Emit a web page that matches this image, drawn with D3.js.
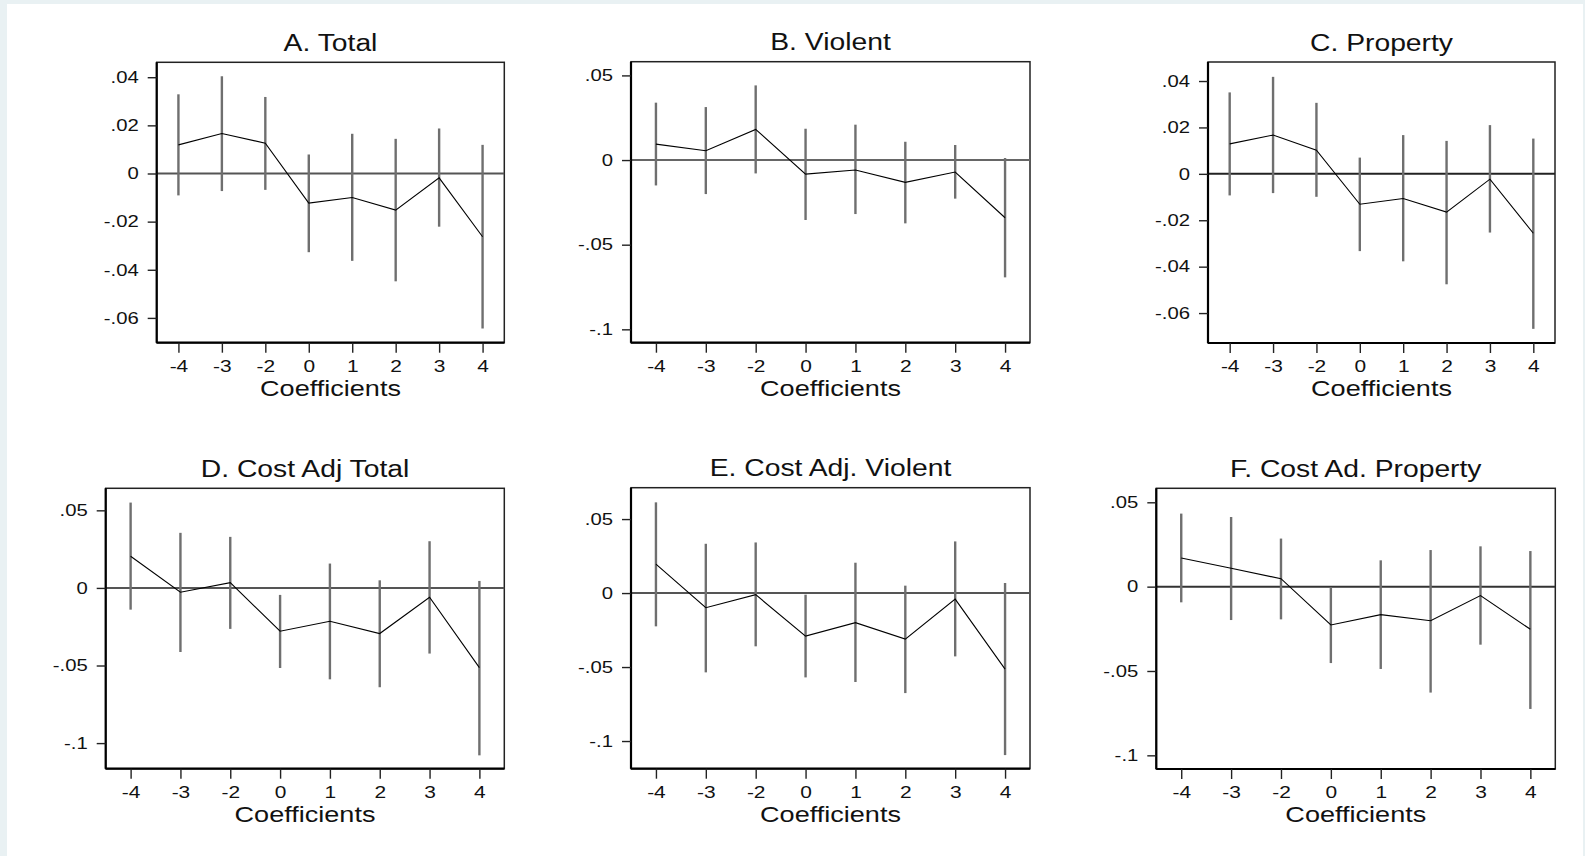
<!DOCTYPE html>
<html>
<head>
<meta charset="utf-8">
<script src="https://cdn.jsdelivr.net/npm/d3@7"></script>
<style>
  html, body { margin: 0; padding: 0; background: #e9f1f3; }
  svg { display: block; }
  text { font-family: "Liberation Sans", Arial, sans-serif; fill: #111; }
</style>
</head>
<body>
<svg id="chart" width="1585" height="856"></svg>
<script>
// ---------- DATA ----------
const categories = ["-4", "-3", "-2", "0", "1", "2", "3", "4"];
const titles = ["A. Total", "B. Violent", "C. Property", "D. Cost Adj Total", "E. Cost Adj. Violent", "F. Cost Ad. Property"];
const xLabel = "Coefficients";

const coefA = [0.0119, 0.0166, 0.0126, -0.0123, -0.0100, -0.0152, -0.0018, -0.0263];
const upperA = [0.0329, 0.0404, 0.0318, 0.0079, 0.0165, 0.0144, 0.0187, 0.0119];
const lowerA = [-0.0091, -0.0073, -0.0068, -0.0327, -0.0363, -0.0448, -0.0221, -0.0644];

const coefB = [0.0094, 0.0055, 0.0181, -0.0083, -0.0059, -0.0132, -0.0071, -0.0341];
const upperB = [0.0339, 0.0313, 0.0441, 0.0185, 0.0209, 0.0108, 0.0089, 0.0012];
const lowerB = [-0.0150, -0.0201, -0.0079, -0.0354, -0.0319, -0.0374, -0.0228, -0.0693];

const coefC = [0.0129, 0.0167, 0.0102, -0.0131, -0.0106, -0.0165, -0.0023, -0.0256];
const upperC = [0.0351, 0.0418, 0.0306, 0.0070, 0.0167, 0.0142, 0.0210, 0.0152];
const lowerC = [-0.0093, -0.0083, -0.0099, -0.0333, -0.0377, -0.0476, -0.0253, -0.0668];

const coefD = [0.0204, -0.0028, 0.0034, -0.0279, -0.0215, -0.0294, -0.0060, -0.0514];
const upperD = [0.0550, 0.0355, 0.0329, -0.0045, 0.0157, 0.0049, 0.0301, 0.0045];
const lowerD = [-0.0140, -0.0413, -0.0264, -0.0516, -0.0589, -0.0640, -0.0423, -0.1079];

const coefE = [0.0196, -0.0099, -0.0011, -0.0291, -0.0200, -0.0311, -0.0041, -0.0514];
const upperE = [0.0613, 0.0333, 0.0342, -0.0011, 0.0205, 0.0050, 0.0349, 0.0068];
const lowerE = [-0.0225, -0.0536, -0.0360, -0.0570, -0.0601, -0.0676, -0.0428, -0.1095];

const coefF = [0.0170, 0.0109, 0.0047, -0.0227, -0.0166, -0.0202, -0.0053, -0.0253];
const upperF = [0.0433, 0.0413, 0.0285, -0.0004, 0.0156, 0.0217, 0.0239, 0.0211];
const lowerF = [-0.0093, -0.0198, -0.0194, -0.0453, -0.0488, -0.0628, -0.0344, -0.0725];

const yTicksSmall = [0.04, 0.02, 0, -0.02, -0.04, -0.06];
const yTickLabelsSmall = [".04", ".02", "0", "-.02", "-.04", "-.06"];
const yTicksLarge = [0.05, 0, -0.05, -0.1];
const yTickLabelsLarge = [".05", "0", "-.05", "-.1"];

// ---------- LAYOUT ----------
const panels = [
  { title: titles[0], coef: coefA, lo: lowerA, hi: upperA, ticks: yTicksSmall, labels: yTickLabelsSmall,
    domain: [-0.0703, 0.0462], box: [156.7, 62.3, 504.3, 342.7], zeroColor: "#555" },
  { title: titles[1], coef: coefB, lo: lowerB, hi: upperB, ticks: yTicksLarge, labels: yTickLabelsLarge,
    domain: [-0.1079, 0.0581], box: [631, 61.7, 1030, 342.7], zeroColor: "#666" },
  { title: titles[2], coef: coefC, lo: lowerC, hi: upperC, ticks: yTicksSmall, labels: yTickLabelsSmall,
    domain: [-0.0729, 0.0482], box: [1208, 62, 1555, 343], zeroColor: "#222" },
  { title: titles[3], coef: coefD, lo: lowerD, hi: upperD, ticks: yTicksLarge, labels: yTickLabelsLarge,
    domain: [-0.1165, 0.0642], box: [105.7, 488.3, 504.3, 768.7], zeroColor: "#555" },
  { title: titles[4], coef: coefE, lo: lowerE, hi: upperE, ticks: yTicksLarge, labels: yTickLabelsLarge,
    domain: [-0.1187, 0.0712], box: [631, 487.7, 1030, 768.7], zeroColor: "#555" },
  { title: titles[5], coef: coefF, lo: lowerF, hi: upperF, ticks: yTicksLarge, labels: yTickLabelsLarge,
    domain: [-0.1081, 0.0583], box: [1156.3, 488.3, 1555.3, 769], zeroColor: "#333" }
];

const STRETCH = 1.23; // reference type is horizontally widened

function widen(sel) {
  sel.each(function () {
    const t = d3.select(this);
    const tx = +t.attr("x") || 0, ty = +t.attr("y") || 0;
    t.attr("x", 0).attr("y", 0).attr("transform", `translate(${tx},${ty}) scale(${STRETCH},1)`);
  });
}

const svg = d3.select("#chart");
svg.append("rect").attr("x", 7).attr("y", 4).attr("width", 1576).attr("height", 852).attr("fill", "#ffffff");

panels.forEach(p => {
  const [x0, y0, x1, y1] = p.box;
  const x = d3.scalePoint().domain(categories).range([x0, x1]).padding(0.5);
  const y = d3.scaleLinear().domain(p.domain).range([y1, y0]);
  const g = svg.append("g");

  // frame
  g.append("rect").attr("x", x0).attr("y", y0).attr("width", x1 - x0).attr("height", y1 - y0)
    .attr("fill", "#fff").attr("stroke", "#222").attr("stroke-width", 1.5);

  // zero line
  g.append("line").attr("x1", x0).attr("x2", x1).attr("y1", y(0)).attr("y2", y(0))
    .attr("stroke", p.zeroColor).attr("stroke-width", 2);

  // error bars
  g.selectAll("line.ci").data(categories).enter().append("line").attr("class", "ci")
    .attr("x1", d => x(d)).attr("x2", d => x(d))
    .attr("y1", (d, i) => y(p.hi[i])).attr("y2", (d, i) => y(p.lo[i]))
    .attr("stroke", "#6f6f6f").attr("stroke-width", 2.4);

  // coefficient line
  const line = d3.line().x((d, i) => x(categories[i])).y(d => y(d));
  g.append("path").datum(p.coef).attr("d", line).attr("fill", "none")
    .attr("stroke", "#000").attr("stroke-width", 1.1);

  // y axis
  const yAxis = d3.axisLeft(y).tickValues(p.ticks).tickFormat((d, i) => p.labels[i])
    .tickSize(9).tickPadding(9);
  const ya = g.append("g").attr("transform", `translate(${x0},0)`).call(yAxis);
  ya.select(".domain").attr("stroke", "#000").attr("stroke-width", 2.2).attr("d", `M0,${y0}V${y1}`);
  ya.selectAll(".tick line").attr("stroke", "#222").attr("stroke-width", 1.4);
  ya.selectAll(".tick text").style("font-size", "16.5px").attr("fill", "#111")
    .style("font-family", '"Liberation Sans", Arial, sans-serif').call(widen);

  // x axis
  const xAxis = d3.axisBottom(x).tickSize(10).tickPadding(7);
  const xa = g.append("g").attr("transform", `translate(0,${y1})`).call(xAxis);
  xa.select(".domain").attr("stroke", "#000").attr("stroke-width", 2.2).attr("d", `M${x0},0H${x1}`);
  xa.selectAll(".tick line").attr("stroke", "#222").attr("stroke-width", 1.4);
  xa.selectAll(".tick text").style("font-size", "17px").attr("fill", "#111")
    .style("font-family", '"Liberation Sans", Arial, sans-serif').call(widen);

  // title
  g.append("text").attr("x", (x0 + x1) / 2).attr("y", y0 - 11.5).attr("text-anchor", "middle")
    .style("font-size", "23px").text(p.title).call(widen);

  // x label
  g.append("text").attr("x", (x0 + x1) / 2).attr("y", y1 + 53).attr("text-anchor", "middle")
    .style("font-size", "22px").text(xLabel).call(widen);
});
</script>
</body>
</html>
